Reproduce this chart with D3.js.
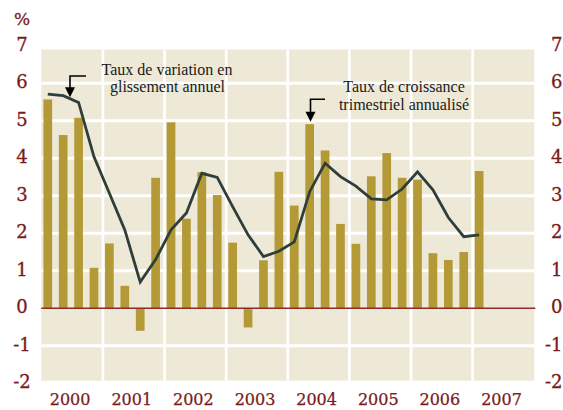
<!DOCTYPE html>
<html>
<head>
<meta charset="utf-8">
<script src="https://cdn.jsdelivr.net/npm/d3@7"></script>
<style>
  html, body { margin: 0; padding: 0; background: #ffffff; }
  svg { display: block; }
</style>
</head>
<body>
<svg id="chart" width="563" height="410"></svg>
<script>
// ---- data ----
const quarters = ["2000T1","2000T2","2000T3","2000T4","2001T1","2001T2","2001T3","2001T4",
  "2002T1","2002T2","2002T3","2002T4","2003T1","2003T2","2003T3","2003T4",
  "2004T1","2004T2","2004T3","2004T4","2005T1","2005T2","2005T3","2005T4",
  "2006T1","2006T2","2006T3","2006T4","2007T1"];
// Taux de croissance trimestriel annualisé (bars)
const quarterlyRate = [5.57, 4.62, 5.08, 1.08, 1.73, 0.60, -0.60, 3.48,
  4.96, 2.39, 3.63, 3.02, 1.75, -0.51, 1.28, 3.64,
  2.74, 4.91, 4.21, 2.25, 1.72, 3.52, 4.14, 3.48,
  3.43, 1.47, 1.29, 1.50, 3.66];
// Taux de variation en glissement annuel (line)
const annualRate = [5.71, 5.67, 5.49, 4.04, 3.07, 2.09, 0.70, 1.30,
  2.09, 2.54, 3.60, 3.49, 2.71, 1.96, 1.38, 1.52,
  1.77, 3.11, 3.87, 3.51, 3.26, 2.92, 2.89, 3.18,
  3.64, 3.16, 2.42, 1.91, 1.96];
const years = ["2000","2001","2002","2003","2004","2005","2006","2007"];
const yTicks = [-2, -1, 0, 1, 2, 3, 4, 5, 6, 7];
const gridValues = [-1, 1, 2, 3, 4, 5, 6];

// ---- colours / fonts ----
const C = {
  bg: "#EEE9D7",
  bar: "#B39A36",
  line: "#2F3D3B",
  red: "#7A1A1A",
  zero: "#8E2A2A",
  text: "#1a1a1a"
};
const numFont = "'DejaVu Serif', 'Liberation Serif', serif";
const annFont = "'Liberation Serif', 'DejaVu Serif', serif";

const svg = d3.select("#chart");
const left = 41.3, right = 534.3;

// quarter scale: 32 quarter slots from 2000T1 through 2007T4
const xq = d3.scaleLinear().domain([0, 32]).range([left, right]);
const step = xq(1) - xq(0);
const y = d3.scaleLinear().domain([-2, 7]).range([383.3, 45.8]);

// background
svg.append("rect")
  .attr("x", left).attr("width", right - left)
  .attr("y", y(6.9)).attr("height", y(-1.93) - y(6.9))
  .attr("fill", C.bg);

// horizontal white grid
svg.append("g").selectAll("line").data(gridValues).join("line")
  .attr("x1", left).attr("x2", right)
  .attr("y1", d => y(d)).attr("y2", d => y(d))
  .attr("stroke", "#ffffff").attr("stroke-width", 3);

// vertical white grid at year boundaries
svg.append("g").selectAll("line").data(d3.range(1, years.length)).join("line")
  .attr("x1", d => xq(d * 4)).attr("x2", d => xq(d * 4))
  .attr("y1", y(6.9)).attr("y2", y(-1.93))
  .attr("stroke", "#ffffff").attr("stroke-width", 2.7);

// bars
const barW = step * 0.565;
const cx = i => xq(i + 0.42);
svg.append("g").selectAll("rect").data(quarterlyRate).join("rect")
  .attr("x", (d, i) => cx(i) - barW / 2)
  .attr("width", barW)
  .attr("y", d => y(Math.max(0, d)))
  .attr("height", d => Math.abs(y(d) - y(0)))
  .attr("fill", C.bar);

// zero line
svg.append("line")
  .attr("x1", left).attr("x2", right + 1)
  .attr("y1", y(0)).attr("y2", y(0))
  .attr("stroke", C.zero).attr("stroke-width", 1.4);

// line series
const lineGen = d3.line().x((d, i) => cx(i)).y(d => y(d));
svg.append("path")
  .datum(annualRate)
  .attr("d", lineGen)
  .attr("fill", "none")
  .attr("stroke", C.line)
  .attr("stroke-width", 2.8)
  .attr("stroke-linejoin", "miter");

// y tick labels left & right
const tickG = svg.append("g")
  .attr("font-family", numFont).attr("font-size", 18).attr("fill", C.red)
  .attr("stroke", C.red).attr("stroke-width", 0.3);
tickG.selectAll("text.l").data(yTicks).join("text").attr("class", "l")
  .attr("x", 22).attr("y", d => y(d) - 1.5)
  .attr("text-anchor", "middle").attr("dominant-baseline", "central")
  .text(d => d);
tickG.selectAll("text.r").data(yTicks).join("text").attr("class", "r")
  .attr("x", 562.5).attr("y", d => y(d) - 1.5)
  .attr("text-anchor", "end").attr("dominant-baseline", "central")
  .text(d => d);
tickG.append("text").attr("x", 22).attr("y", 18.5)
  .attr("text-anchor", "middle").attr("dominant-baseline", "central")
  .attr("font-size", 17)
  .text("%");

// year labels
svg.append("g").attr("font-family", numFont).attr("font-size", 16).attr("fill", C.red)
  .attr("stroke", C.red).attr("stroke-width", 0.25)
  .selectAll("text").data(years).join("text")
  .attr("x", (d, i) => xq(i * 4 + 2) - 2)
  .attr("y", 405)
  .attr("text-anchor", "middle")
  .text(d => d);

// annotations
const ann = svg.append("g").attr("font-family", annFont).attr("font-size", 16).attr("fill", C.text);
ann.append("text").attr("x", 167).attr("y", 75).attr("text-anchor", "middle").text("Taux de variation en");
ann.append("text").attr("x", 167.5).attr("y", 92.3).attr("text-anchor", "middle").text("glissement annuel");
ann.append("text").attr("x", 404).attr("y", 91.7).attr("text-anchor", "middle").text("Taux de croissance");
ann.append("text").attr("x", 404).attr("y", 110).attr("text-anchor", "middle").text("trimestriel annualisé");

function arrow(x0, yTop, xTip, yTip) {
  const g = svg.append("g");
  g.append("path")
    .attr("d", `M${x0},${yTop} H${xTip} V${yTip - 8}`)
    .attr("fill", "none").attr("stroke", "#000").attr("stroke-width", 1.6);
  g.append("path")
    .attr("d", `M${xTip - 5},${yTip - 10} L${xTip + 5},${yTip - 10} L${xTip},${yTip} Z`)
    .attr("fill", "#000");
}
arrow(86, 76, 70, 97.3);
arrow(325, 99.3, 310.5, 121.7);
</script>
</body>
</html>
